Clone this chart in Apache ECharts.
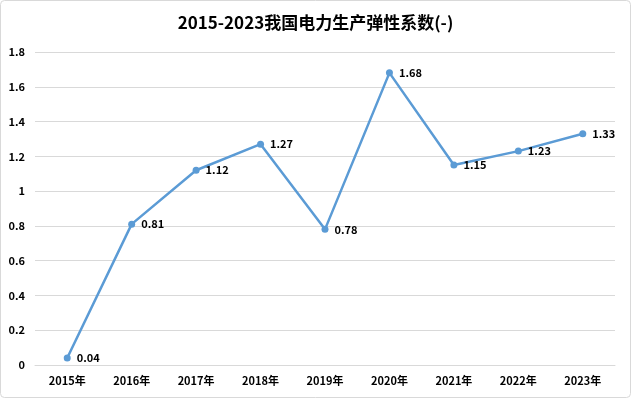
<!DOCTYPE html>
<html><head><meta charset="utf-8">
<script src="https://cdn.jsdelivr.net/npm/echarts@6/dist/echarts.min.js"></script>
<style>html,body{margin:0;padding:0;background:#fff}#c{width:631px;height:398px}</style>
</head><body><div id="c"></div>
<script>
var categories = ['2015年','2016年','2017年','2018年','2019年','2020年','2021年','2022年','2023年'];
var values = [0.04,0.81,1.12,1.27,0.78,1.68,1.15,1.23,1.33];
var title = '2015-2023我国电力生产弹性系数(-)';
var chart = echarts.init(document.getElementById('c'));
var font = '"Microsoft YaHei","Noto Sans CJK SC",sans-serif';
chart.setOption({
  backgroundColor: '#fff',
  animation: false,
  title: {text: title, left: 'center', top: 9, textStyle: {fontSize: 17, fontWeight: 'bold', color: '#000', fontFamily: font}},
  grid: {left: 35, right: 16, top: 52, bottom: 33},
  graphic: [{type: 'rect', shape: {x: 0.5, y: 0.5, width: 630, height: 397, r: 4}, style: {fill: 'none', stroke: '#d9d9d9', lineWidth: 1}, silent: true}],
  xAxis: {type: 'category', data: categories, boundaryGap: true,
    axisLine: {lineStyle: {color: '#d9d9d9'}}, axisTick: {show: false},
    axisLabel: {color: '#000', fontSize: 11, fontWeight: 'bold', fontFamily: font, margin: 10}},
  yAxis: {type: 'value', min: 0, max: 1.8, interval: 0.2,
    axisLine: {show: false}, axisTick: {show: false},
    splitLine: {lineStyle: {color: '#d9d9d9'}},
    axisLabel: {color: '#000', fontSize: 11, fontWeight: 'bold', fontFamily: font, margin: 10,
      formatter: function(v){return String(+v.toFixed(1));}}},
  series: [{type: 'line', data: values, symbol: 'circle', symbolSize: 7,
    lineStyle: {color: '#5B9BD5', width: 2.5}, itemStyle: {color: '#5B9BD5'},
    label: {show: true, position: 'right', distance: 6, color: '#000', fontSize: 11, fontWeight: 'bold', fontFamily: font,
      formatter: function(p){return p.value.toFixed(2);}}}]
});
</script></body></html>
